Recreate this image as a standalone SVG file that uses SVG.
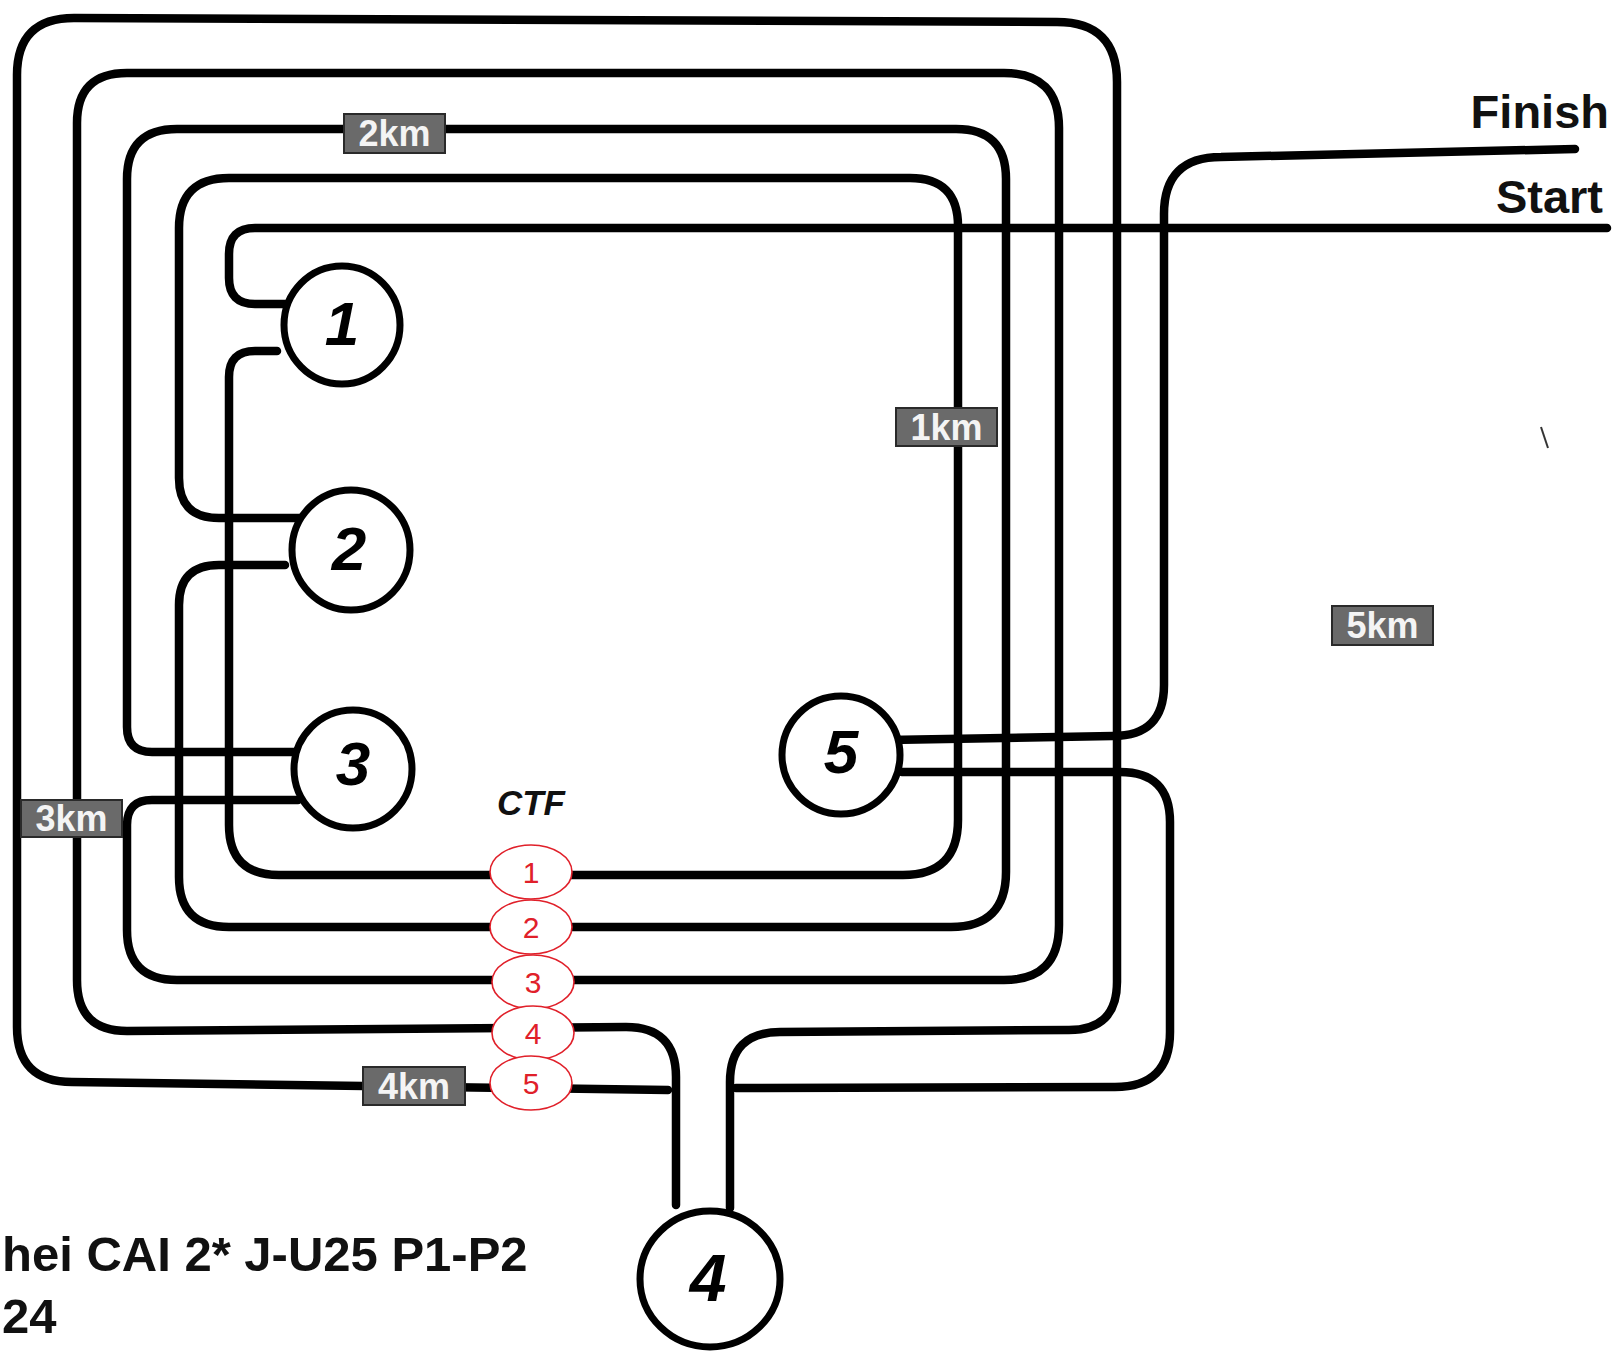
<svg xmlns="http://www.w3.org/2000/svg" width="1618" height="1352" viewBox="0 0 1618 1352">
<style>
.trk{fill:none;stroke:#000;stroke-width:8.5;stroke-linecap:round;stroke-linejoin:round}
.node{fill:#fff;stroke:#000;stroke-width:7}
.num{font-family:"Liberation Sans",Arial,sans-serif;font-weight:bold;font-style:italic;font-size:62px;text-anchor:middle;fill:#000}
.ctf{fill:#fff;stroke:#e0202a;stroke-width:1.6}
.ctfn{font-family:"Liberation Sans",Arial,sans-serif;font-size:30px;text-anchor:middle;fill:#e0202a}
.lbl{fill:#6a6a6a;stroke:#2a2a2a;stroke-width:2}
.lblt{font-family:"Liberation Sans",Arial,sans-serif;font-weight:bold;font-size:36px;text-anchor:middle;fill:#f4f4f4}
.big{font-family:"Liberation Sans",Arial,sans-serif;font-weight:bold;fill:#111}
</style>
<rect width="1618" height="1352" fill="#fff"/>
<g id="connectors">
<path class="trk" d="M1607 228 L255 228 Q229 228 229 254 L229 278 Q229 304 255 304 L285 304"/>
<path class="trk" d="M277 351 L255 351 Q229 351 229 377 L229 825 Q229 875 279 875 L903 875 Q958 875 958 820 L958 226 Q958 178 910 178 L229 178 Q179 178 179 228 L179 478 Q179 518 219 518 L300 518"/>
<path class="trk" d="M285 565 L219 565 Q179 565 179 605 L179 877 Q179 927 229 927 L951 927 Q1006 927 1006 872 L1006 179 Q1006 129 956 129 L177 129 Q127 129 127 179 L127 727 Q127 752 152 752 L295 752"/>
<path class="trk" d="M298 800 L152 800 Q127 800 127 825 L127 930 Q127 980 177 980 L1004 980 Q1059 980 1059 925 L1059 128 Q1059 73 1004 73 L127 73 Q77 73 77 123 L77 980 Q77 1031 127 1031 L626 1027 Q676 1027 676 1077 L676 1205"/>
<path class="trk" d="M730 1208 L730 1082 Q730 1032 780 1032 L1069 1030 Q1117 1030 1117 982 L1117 82 Q1117 22 1057 22 L74 18 Q17 18 17 75 L17 1027 Q17 1082 72 1082 L668 1090"/>
<path class="trk" d="M736 1088 L1115 1087 Q1170 1087 1170 1032 L1170 822 Q1170 772 1120 772 L902 772"/>
<path class="trk" d="M889 740 L1113 736 Q1164 736 1164 685 L1164 214 Q1164 157 1221 157 L1575 149"/>
<path d="M1541 427 L1548 448" stroke="#333" stroke-width="2" fill="none"/>
</g>
<g id="node1"><ellipse class="node" cx="342" cy="325" rx="58" ry="59"/><text class="num" x="342" y="345">1</text></g>
<g id="node2"><ellipse class="node" cx="351" cy="550" rx="59" ry="60"/><text class="num" x="349" y="570">2</text></g>
<g id="node3"><ellipse class="node" cx="353" cy="769" rx="59" ry="59"/><text class="num" x="353" y="785">3</text></g>
<g id="node5"><ellipse class="node" cx="841" cy="755" rx="59" ry="59"/><text class="num" x="841" y="773">5</text></g>
<g id="node4"><ellipse class="node" cx="710" cy="1279" rx="70" ry="68"/><text class="num" x="708" y="1301" style="font-size:66px">4</text></g>
<g id="ctf-title"><text class="big" x="531" y="815" text-anchor="middle" font-size="35" font-style="italic">CTF</text></g>
<g id="ctf1"><ellipse class="ctf" cx="531" cy="872" rx="41" ry="27"/><text class="ctfn" x="531" y="883">1</text></g>
<g id="ctf2"><ellipse class="ctf" cx="531" cy="927" rx="41" ry="27"/><text class="ctfn" x="531" y="938">2</text></g>
<g id="ctf3"><ellipse class="ctf" cx="533" cy="982" rx="41" ry="27"/><text class="ctfn" x="533" y="993">3</text></g>
<g id="ctf4"><ellipse class="ctf" cx="533" cy="1033" rx="41" ry="27"/><text class="ctfn" x="533" y="1044">4</text></g>
<g id="ctf5"><ellipse class="ctf" cx="531" cy="1083" rx="41" ry="27"/><text class="ctfn" x="531" y="1094">5</text></g>
<g id="label-2km"><rect class="lbl" x="344" y="114" width="101" height="39"/><text class="lblt" x="394.5" y="146">2km</text></g>
<g id="label-1km"><rect class="lbl" x="896" y="408" width="101" height="38"/><text class="lblt" x="946.5" y="440">1km</text></g>
<g id="label-5km"><rect class="lbl" x="1332" y="606" width="101" height="39"/><text class="lblt" x="1382.5" y="638">5km</text></g>
<g id="label-3km"><rect class="lbl" x="21" y="800" width="101" height="37"/><text class="lblt" x="71.5" y="831">3km</text></g>
<g id="label-4km"><rect class="lbl" x="363" y="1067" width="102" height="38"/><text class="lblt" x="414" y="1099">4km</text></g>
<g id="finish"><text class="big" x="1609" y="128" text-anchor="end" font-size="47">Finish</text></g>
<g id="start"><text class="big" x="1603" y="213" text-anchor="end" font-size="47">Start</text></g>
<g id="caption"><text class="big" x="2" y="1271" font-size="49">hei CAI 2* J-U25 P1-P2</text><text class="big" x="2" y="1333" font-size="49">24</text></g>
</svg>
